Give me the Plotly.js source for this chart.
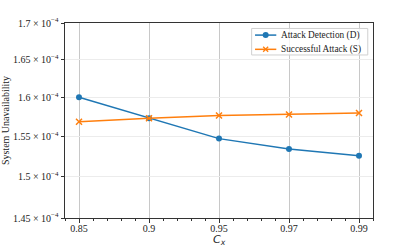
<!DOCTYPE html>
<html>
<head>
<meta charset="utf-8">
<script src="https://cdn.plot.ly/plotly-3.0.1.min.js"></script>
<style>html,body{margin:0;padding:0;background:#fff;}#chart{width:395px;height:247px;}</style>
</head>
<body>
<div id="chart"></div>
<script>
const cxLabels = ["0.85", "0.9", "0.95", "0.97", "0.99"];
const detection = [1.600e-4, 1.573e-4, 1.547e-4, 1.534e-4, 1.5255e-4];
const successful = [1.5685e-4, 1.573e-4, 1.5765e-4, 1.5778e-4, 1.5797e-4];
const seriesNames = ["Attack Detection (D)", "Successful Attack (S)"];
const seriesColors = ["#1f77b4", "#ff7f0e"];
const yTickVals = [1.45e-4, 1.5e-4, 1.55e-4, 1.6e-4, 1.65e-4, 1.7e-4];
const yTickText = ["1.45 × 10<sup>−4</sup>", "1.5 × 10<sup>−4</sup>", "1.55 × 10<sup>−4</sup>", "1.6 × 10<sup>−4</sup>", "1.65 × 10<sup>−4</sup>", "1.7 × 10<sup>−4</sup>"];

const xIdx = cxLabels.map((_, i) => i);
const serif = "Liberation Serif, Times New Roman, serif";

const traces = [
  {x: xIdx, y: detection, name: seriesNames[0], mode: "lines+markers",
   line: {color: seriesColors[0], width: 1.5}, marker: {symbol: "circle", size: 6, color: seriesColors[0]}},
  {x: xIdx, y: successful, name: seriesNames[1], mode: "lines+markers",
   line: {color: seriesColors[1], width: 1.5}, marker: {symbol: "x-thin", size: 6, color: seriesColors[1], line: {color: seriesColors[1], width: 1.5}}}
];

// Legend drawn as a matplotlib-style box (paper coordinates)
const lg = {x0: 0.606, x1: 0.983, y0: 0.836, y1: 0.972, lx0: 0.617, lx1: 0.686, tx: 0.696, rows: [0.938, 0.865]};
const mx = lg.lx0 + (lg.lx1 - lg.lx0) / 2;
const rx = 3 / 308, ry = 3 / 195;
const shapes = [
  {type: "rect", xref: "paper", yref: "paper", x0: lg.x0, x1: lg.x1, y0: lg.y0, y1: lg.y1,
   line: {color: "#d0d0d0", width: 1}, fillcolor: "rgba(255,255,255,0.8)", layer: "above"}
];
const annotations = [];
seriesNames.forEach((nm, i) => {
  const yy = lg.rows[i];
  shapes.push({type: "line", xref: "paper", yref: "paper", x0: lg.lx0, x1: lg.lx1, y0: yy, y1: yy,
               line: {color: seriesColors[i], width: 1.5}, layer: "above"});
  if (i === 0) {
    shapes.push({type: "circle", xref: "paper", yref: "paper", x0: mx - rx, x1: mx + rx, y0: yy - ry, y1: yy + ry,
                 line: {color: seriesColors[i], width: 0}, fillcolor: seriesColors[i], layer: "above"});
  } else {
    const ax = 2.5 / 308, ay = 2.5 / 195;
    shapes.push({type: "line", xref: "paper", yref: "paper", x0: mx - ax, x1: mx + ax, y0: yy - ay, y1: yy + ay,
                 line: {color: seriesColors[i], width: 1.3}, layer: "above"});
    shapes.push({type: "line", xref: "paper", yref: "paper", x0: mx - ax, x1: mx + ax, y0: yy + ay, y1: yy - ay,
                 line: {color: seriesColors[i], width: 1.3}, layer: "above"});
  }
  annotations.push({xref: "paper", yref: "paper", x: lg.tx, y: yy, xanchor: "left", yanchor: "middle",
                    showarrow: false, text: nm, font: {family: serif, size: 9.3, color: "#222"}});
});
annotations.push({xref: "paper", yref: "paper", x: 0.5, y: -0.115, xanchor: "center", yanchor: "middle", showarrow: false,
                  text: "<i>C</i><sub><i>x</i></sub>", font: {family: "DejaVu Sans", size: 11, color: "#222"}});

const layout = {
  width: 395, height: 247,
  margin: {l: 65, r: 22, t: 23, b: 29},
  paper_bgcolor: "#fff", plot_bgcolor: "#fff",
  font: {family: serif, size: 10, color: "#222"},
  showlegend: false,
  xaxis: {
    range: [-0.2, 4.2], tickvals: xIdx, ticktext: cxLabels,
    showgrid: true, gridcolor: "#c8c8c8", gridwidth: 1, zeroline: false,
    showline: true, linecolor: "#333", linewidth: 1, mirror: true,
    ticks: "outside", ticklen: 3.5, tickcolor: "#333", ticklabelstandoff: -3,
    minor: {dtick: 0.2, tick0: 0, ticks: "outside", ticklen: 2, tickcolor: "#333", showgrid: false},
    tickfont: {family: serif, size: 10, color: "#222"}
  },
  yaxis: {
    type: "log", range: [Math.log10(1.45e-4), Math.log10(1.7e-4)],
    tickvals: yTickVals, ticktext: yTickText,
    showgrid: true, gridcolor: "#ececec", gridwidth: 1, zeroline: false,
    showline: true, linecolor: "#333", linewidth: 1, mirror: true,
    ticks: "outside", ticklen: 3.5, tickcolor: "#333",
    tickfont: {family: serif, size: 10, color: "#222"},
    title: {text: "System Unavailability", font: {family: serif, size: 10, color: "#222"}, standoff: 5}
  },
  shapes: shapes,
  annotations: annotations
};

Plotly.newPlot("chart", traces, layout, {displayModeBar: false, staticPlot: true});
</script>
</body>
</html>
